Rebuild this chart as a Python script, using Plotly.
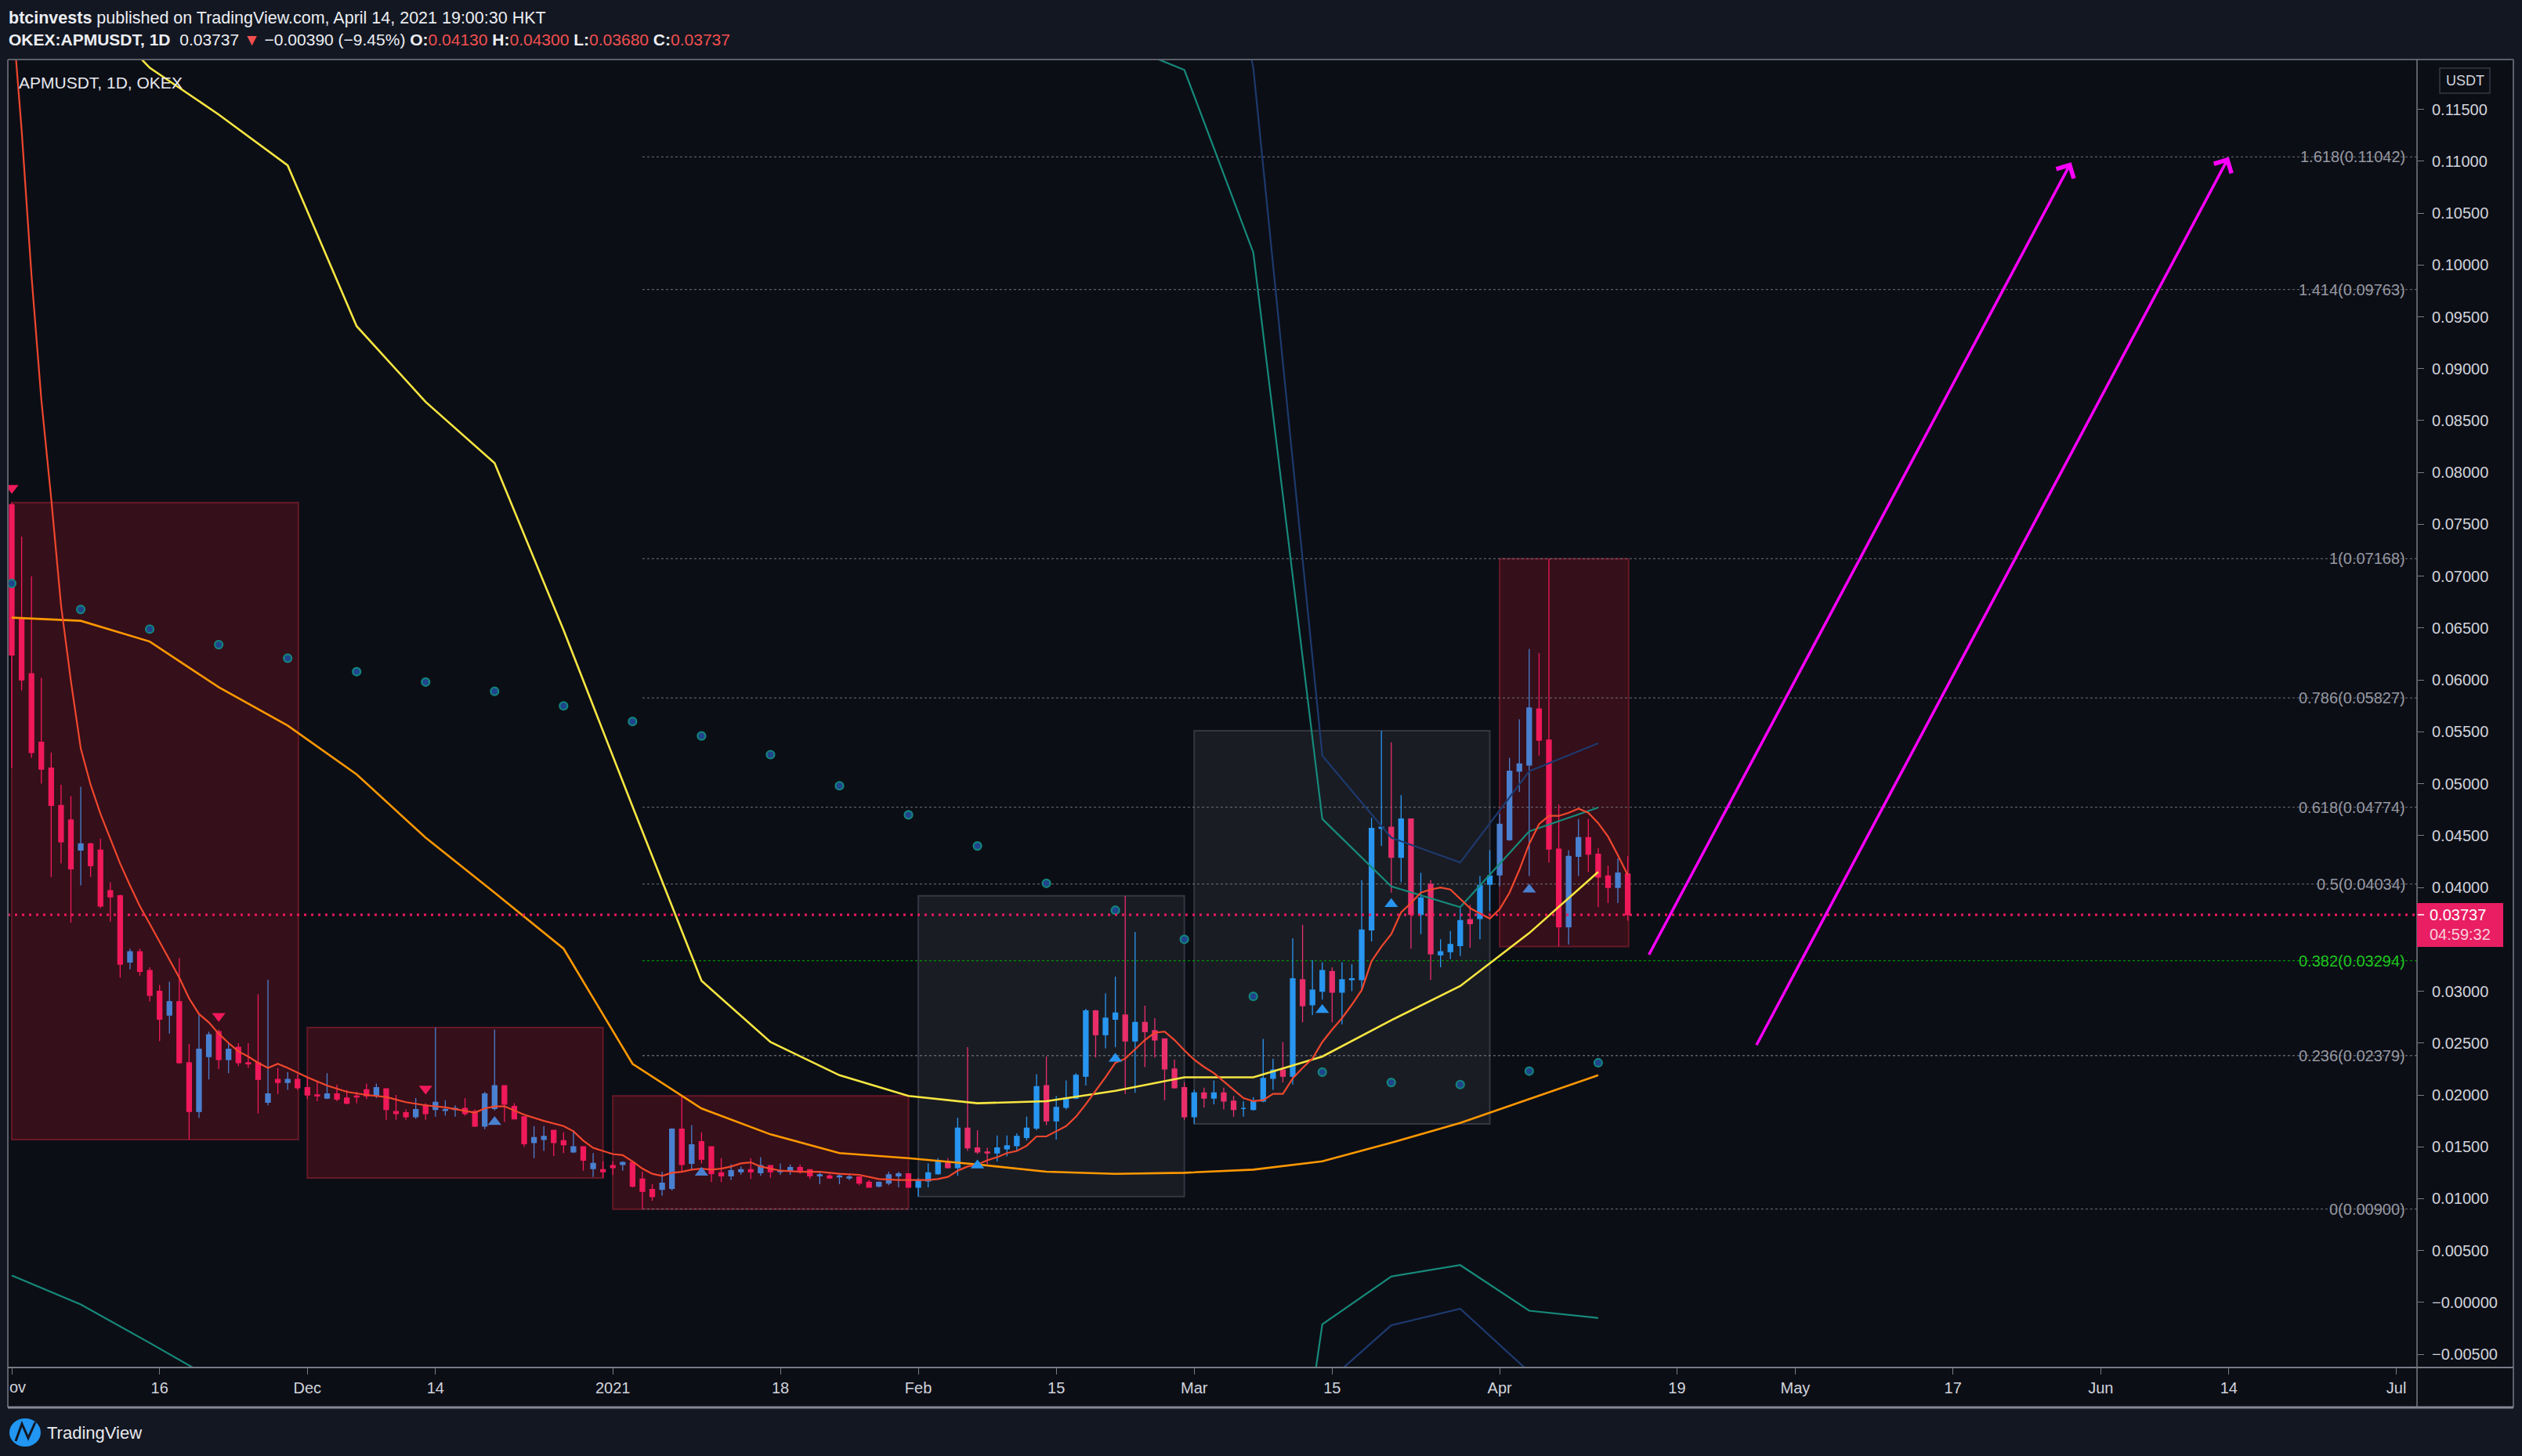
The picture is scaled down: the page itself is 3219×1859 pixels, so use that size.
import plotly.graph_objects as go
import pandas as pd

W, H = 3219, 1859

# ---------------- data ----------------
dates = pd.date_range('2020-11-01', periods=165, freq='D')

open_ = [0.0769, 0.0660, 0.0606, 0.0540, 0.0515, 0.0479, 0.0465, 0.0436, 0.0442, 0.0436,
         0.0397, 0.0392, 0.0328, 0.0338, 0.0320, 0.0300, 0.0277, 0.0290, 0.0231, 0.0184,
         0.0237, 0.0261, 0.0234, 0.0246, 0.0231, 0.0231, 0.0193, 0.0215, 0.0212, 0.0215,
         0.0207, 0.0200, 0.0197, 0.0201, 0.0197, 0.0199, 0.0205, 0.0199, 0.0206, 0.0184,
         0.0183, 0.0179, 0.0190, 0.0186, 0.0185, 0.0186, 0.0187, 0.0184, 0.0170, 0.0187,
         0.0209, 0.0189, 0.0179, 0.0154, 0.0157, 0.0166, 0.0156, 0.0145, 0.0150, 0.0129,
         0.0128, 0.0132, 0.0133, 0.0135, 0.0119, 0.0109, 0.0109, 0.0110, 0.0167, 0.0134,
         0.0155, 0.0150, 0.0125, 0.0122, 0.0126, 0.0128, 0.0125, 0.0132, 0.0126, 0.0127,
         0.0130, 0.0128, 0.0122, 0.0122, 0.0121, 0.0120, 0.0121, 0.0116, 0.0112, 0.0115,
         0.0122, 0.0124, 0.0111, 0.0117, 0.0124, 0.0136, 0.0130, 0.0168, 0.0149, 0.0145,
         0.0144, 0.0148, 0.0151, 0.0159, 0.0168, 0.0209, 0.0175, 0.0188, 0.0197, 0.0218,
         0.0281, 0.0258, 0.0273, 0.0277, 0.0252, 0.0270, 0.0262, 0.0254, 0.0225, 0.0207,
         0.0179, 0.0202, 0.0197, 0.0202, 0.0194, 0.0187, 0.0186, 0.0194, 0.0216, 0.0224,
         0.0218, 0.0311, 0.0287, 0.0300, 0.0319, 0.0299, 0.0311, 0.0311, 0.0359, 0.0457,
         0.0458, 0.0429, 0.0466, 0.0374, 0.0403, 0.0335, 0.0338, 0.0344, 0.0369, 0.0370,
         0.0403, 0.0412, 0.0446, 0.0512, 0.0518, 0.0572, 0.0542, 0.0437, 0.0362, 0.0430,
         0.0448, 0.0432, 0.0411, 0.0400, 0.0413]

high = [0.0771, 0.0738, 0.0700, 0.0602, 0.0530, 0.0499, 0.0488, 0.0497, 0.0443, 0.0447,
        0.0405, 0.0393, 0.0341, 0.0341, 0.0323, 0.0306, 0.0309, 0.0332, 0.0249, 0.0277,
        0.0261, 0.0263, 0.0250, 0.0250, 0.0250, 0.0297, 0.0311, 0.0226, 0.0222, 0.0220,
        0.0218, 0.0213, 0.0221, 0.0210, 0.0205, 0.0203, 0.0211, 0.0211, 0.0206, 0.0200,
        0.0186, 0.0197, 0.0192, 0.0265, 0.0195, 0.0190, 0.0197, 0.0186, 0.0203, 0.0263,
        0.0209, 0.0192, 0.0179, 0.0170, 0.0170, 0.0166, 0.0164, 0.0166, 0.0150, 0.0144,
        0.0136, 0.0136, 0.0136, 0.0136, 0.0126, 0.0114, 0.0126, 0.0168, 0.0199, 0.0171,
        0.0164, 0.0150, 0.0139, 0.0133, 0.0131, 0.0139, 0.0140, 0.0132, 0.0134, 0.0133,
        0.0133, 0.0128, 0.0126, 0.0124, 0.0124, 0.0124, 0.0121, 0.0118, 0.0116, 0.0126,
        0.0126, 0.0124, 0.0120, 0.0134, 0.0139, 0.0139, 0.0178, 0.0246, 0.0166, 0.0149,
        0.0161, 0.0161, 0.0163, 0.0179, 0.0220, 0.0237, 0.0199, 0.0214, 0.0221, 0.0283,
        0.0282, 0.0298, 0.0314, 0.0392, 0.0357, 0.0286, 0.0274, 0.0254, 0.0234, 0.0212,
        0.0205, 0.0207, 0.0214, 0.0207, 0.0199, 0.0194, 0.0198, 0.0254, 0.0235, 0.0251,
        0.0351, 0.0364, 0.0330, 0.0328, 0.0323, 0.0328, 0.0326, 0.0407, 0.0467, 0.0551,
        0.0540, 0.0489, 0.0466, 0.0414, 0.0407, 0.0350, 0.0358, 0.0380, 0.0383, 0.0411,
        0.0436, 0.0471, 0.0525, 0.0562, 0.0630, 0.0626, 0.07168, 0.0480, 0.0436, 0.0466,
        0.0466, 0.0438, 0.0421, 0.0428, 0.0430]

low = [0.0515, 0.0590, 0.0525, 0.0500, 0.0410, 0.0423, 0.0366, 0.0402, 0.0410, 0.0380,
       0.0367, 0.0313, 0.0321, 0.0315, 0.0290, 0.0252, 0.0259, 0.0230, 0.0157, 0.0178,
       0.0215, 0.0225, 0.0221, 0.0228, 0.0226, 0.0182, 0.0190, 0.0201, 0.0205, 0.0205,
       0.0196, 0.0194, 0.0196, 0.0194, 0.0191, 0.0192, 0.0196, 0.0197, 0.0176, 0.0176,
       0.0176, 0.0177, 0.0176, 0.0179, 0.0180, 0.0179, 0.0180, 0.0169, 0.0167, 0.0185,
       0.0174, 0.0177, 0.0150, 0.0139, 0.0146, 0.0141, 0.0144, 0.0144, 0.0127, 0.0121,
       0.0120, 0.0123, 0.0127, 0.0111, 0.0090, 0.0098, 0.0103, 0.0108, 0.0126, 0.0128,
       0.0134, 0.0116, 0.0116, 0.0118, 0.0123, 0.0119, 0.0122, 0.0120, 0.0123, 0.0123,
       0.0124, 0.0119, 0.0114, 0.0119, 0.0114, 0.0118, 0.0113, 0.0111, 0.0111, 0.0113,
       0.0111, 0.0111, 0.0102, 0.0111, 0.0123, 0.0129, 0.0122, 0.0146, 0.0143, 0.0133,
       0.0136, 0.0141, 0.0146, 0.0156, 0.0166, 0.0171, 0.0157, 0.0186, 0.0196, 0.0209,
       0.0236, 0.0245, 0.0246, 0.0201, 0.0202, 0.0227, 0.0236, 0.0195, 0.0206, 0.0176,
       0.0172, 0.0188, 0.0191, 0.0186, 0.0179, 0.0179, 0.0185, 0.0193, 0.0205, 0.0212,
       0.0210, 0.0270, 0.0277, 0.0292, 0.0270, 0.0268, 0.0300, 0.0301, 0.0348, 0.0440,
       0.0395, 0.0405, 0.0341, 0.0355, 0.0311, 0.0323, 0.0331, 0.0334, 0.0342, 0.0350,
       0.0377, 0.0401, 0.0445, 0.0492, 0.0411, 0.0527, 0.0424, 0.0343, 0.0345, 0.0411,
       0.0415, 0.0381, 0.0385, 0.0385, 0.0368]

close = [0.0624, 0.0600, 0.0530, 0.0514, 0.0479, 0.0444, 0.0418, 0.0442, 0.0421, 0.0382,
         0.0391, 0.0326, 0.0338, 0.0319, 0.0296, 0.0273, 0.0290, 0.0231, 0.0184, 0.0244,
         0.0258, 0.0234, 0.0244, 0.0231, 0.0230, 0.0215, 0.0201, 0.0212, 0.0215, 0.0207,
         0.0200, 0.0199, 0.0201, 0.0196, 0.0192, 0.0198, 0.0199, 0.0207, 0.0186, 0.0182,
         0.0179, 0.0186, 0.0182, 0.0193, 0.0186, 0.0187, 0.0182, 0.0170, 0.0201, 0.0209,
         0.0191, 0.0177, 0.0153, 0.0159, 0.0160, 0.0154, 0.0152, 0.0150, 0.0137, 0.0134,
         0.0126, 0.0130, 0.0135, 0.0112, 0.0107, 0.0102, 0.0115, 0.0167, 0.0133, 0.0152,
         0.0138, 0.0124, 0.0122, 0.0127, 0.0128, 0.0126, 0.0132, 0.0126, 0.0127, 0.0130,
         0.0127, 0.0122, 0.0123, 0.0120, 0.0122, 0.0121, 0.0115, 0.0111, 0.0116, 0.0123,
         0.0124, 0.0111, 0.0117, 0.0125, 0.0136, 0.0130, 0.0168, 0.0149, 0.0145, 0.0144,
         0.0149, 0.0151, 0.0160, 0.0168, 0.0208, 0.0175, 0.0188, 0.0197, 0.0219, 0.0281,
         0.0258, 0.0274, 0.0279, 0.0252, 0.0270, 0.0261, 0.0253, 0.0225, 0.0207, 0.0179,
         0.0202, 0.0197, 0.0202, 0.0194, 0.0186, 0.0187, 0.0194, 0.0216, 0.0224, 0.0218,
         0.0312, 0.0286, 0.0301, 0.0320, 0.0299, 0.0311, 0.0312, 0.0359, 0.0457, 0.0458,
         0.0429, 0.0466, 0.0374, 0.0390, 0.0336, 0.0338, 0.0345, 0.0368, 0.0365, 0.0402,
         0.0411, 0.0461, 0.0512, 0.0519, 0.0573, 0.0542, 0.0437, 0.0362, 0.0430, 0.0448,
         0.0432, 0.0410, 0.0400, 0.0414, 0.03737]

# fast moving average (red-orange), sampled at day offsets from Nov 1
ma_days = [0, 1, 2, 3, 4, 5, 6, 7, 8, 9,
           10, 11, 12, 13, 14, 15, 16, 17, 18, 19,
           20, 21, 22, 23, 24, 25, 26, 27, 28, 30,
           32, 34, 36, 38, 40, 42, 44, 46, 47, 48,
           49, 50, 51, 52, 54, 56, 57, 58, 59, 60,
           61, 62, 63, 64, 65, 66, 67, 68, 69, 70,
           71, 72, 73, 74, 75, 76, 77, 78, 80, 82,
           84, 86, 88, 90, 92, 93, 94, 95, 96, 97,
           98, 99, 100, 101, 102, 103, 104, 105, 106, 107,
           108, 109, 110, 111, 112, 113, 114, 115, 116, 117,
           118, 119, 120, 121, 122, 123, 124, 125, 126, 127,
           128, 129, 130, 131, 132, 133, 134, 135, 136, 137,
           138, 139, 140, 141, 142, 143, 144, 145, 146, 147,
           148, 149, 150, 151, 152, 153, 154, 155, 156, 157,
           158, 159, 160, 161, 162, 163, 164]
ma_vals = [0.1250, 0.1130, 0.0990, 0.0870, 0.0775, 0.0672, 0.0599, 0.0534, 0.0499, 0.0471,
           0.0447, 0.0423, 0.0402, 0.0382, 0.0365, 0.0348, 0.0330, 0.0313, 0.0293, 0.0278,
           0.0270, 0.0259, 0.0250, 0.0242, 0.0237, 0.0231, 0.0226, 0.0230, 0.0226, 0.0217,
           0.0209, 0.0203, 0.0200, 0.0198, 0.0193, 0.0190, 0.0188, 0.0185, 0.0183, 0.0187,
           0.0189, 0.0189, 0.0185, 0.0181, 0.0175, 0.0170, 0.0165, 0.0156, 0.0149, 0.0146,
           0.0143, 0.0142, 0.0136, 0.0129, 0.0124, 0.0122, 0.0125, 0.0126, 0.0128, 0.0129,
           0.0128, 0.0129, 0.0131, 0.0134, 0.0135, 0.0131, 0.0129, 0.0127, 0.0126, 0.0126,
           0.0124, 0.0123, 0.0119, 0.0118, 0.0118, 0.0118, 0.0119, 0.0121, 0.0127, 0.0131,
           0.0133, 0.0137, 0.0140, 0.0144, 0.0146, 0.0151, 0.0160, 0.0160, 0.0165, 0.0170,
           0.0179, 0.0191, 0.0204, 0.0217, 0.0231, 0.0235, 0.0244, 0.0253, 0.0260, 0.0261,
           0.0253, 0.0243, 0.0234, 0.0227, 0.0221, 0.0213, 0.0205, 0.0197, 0.0194, 0.0195,
           0.0201, 0.0201, 0.0216, 0.0226, 0.0235, 0.0251, 0.0263, 0.0274, 0.0287, 0.0301,
           0.0329, 0.0343, 0.0355, 0.0376, 0.0385, 0.0395, 0.0398, 0.0400, 0.0398, 0.0389,
           0.0380, 0.0375, 0.0370, 0.0379, 0.0395, 0.0417, 0.0442, 0.0461, 0.0469, 0.0469,
           0.0472, 0.0476, 0.0472, 0.0462, 0.0449, 0.0431, 0.0412]

# weekly indicator lines (values on Sundays, Nov 1 .. Apr 11)
week_dates = pd.date_range('2020-11-01', '2021-04-11', freq='7D')
dots_vals = [0.0693, 0.0668, 0.0649, 0.0634, 0.0621, 0.0608, 0.0598, 0.0589, 0.0575, 0.0560,
             0.0546, 0.0528, 0.0498, 0.0470, 0.0440, 0.0404, 0.0378, 0.0350, 0.0295, 0.0222,
             0.0212, 0.0210, 0.0223, 0.0231]
orange_vals = [0.0660, 0.0657, 0.0637, 0.0593, 0.0556, 0.0509, 0.0448, 0.0395, 0.0341, 0.0230,
               0.0187, 0.0162, 0.0144, 0.0139, 0.0133, 0.0126, 0.0124, 0.0125, 0.0128, 0.0136,
               0.0154, 0.0173, 0.0196, 0.0219]
yellow_vals = [0.1260, 0.1190, 0.1145, 0.1096, 0.0941, 0.0868, 0.0809, 0.0648, 0.0478,
               0.0310, 0.0251, 0.0219, 0.0199, 0.0192, 0.0194, 0.0204, 0.0217, 0.0217, 0.0237,
               0.0272, 0.0305, 0.0356, 0.0415]               # Nov 8 .. Apr 11
teal_upper_vals = [0.1215, 0.1188, 0.1012, 0.0466, 0.0401, 0.0381, 0.0454, 0.0477]   # Feb 21 .. Apr 11
teal_lower_a_vals = [0.0026, -0.0002, -0.0039, -0.0077]                             # Nov 1 .. Nov 22
teal_lower_b_vals = [-0.0480, -0.0021, 0.0025, 0.0036, -0.0008, -0.0015]             # Mar 7 .. Apr 11
navy_upper_vals = [0.1500, 0.1190, 0.0527, 0.0448, 0.0424, 0.0512, 0.0539]           # Feb 28 .. Apr 11
navy_lower_vals = [-0.0081, -0.0022, -0.0006, -0.0067, -0.0075]                      # Mar 14 .. Apr 11

# signal triangles
down_dates = ['2020-11-01', '2020-11-22', '2020-12-13']
down_vals = [0.0785, 0.0276, 0.0206]
up_dates = ['2020-12-20', '2021-01-10', '2021-02-07', '2021-02-21', '2021-03-14', '2021-03-21', '2021-04-04']
up_vals = [0.0174, 0.0125, 0.0132, 0.0235, 0.0282, 0.0384, 0.0398]

# Fibonacci levels (anchored on Jan 4 low and Apr 6 high)
fib_low, fib_high = 0.00900, 0.07168
fib_ratios = [0, 0.236, 0.382, 0.5, 0.618, 0.786, 1, 1.414, 1.618]
fib_names = ['0', '0.236', '0.382', '0.5', '0.618', '0.786', '1', '1.414', '1.618']

# shaded ranges (monthly boxes)
box_starts = ['2020-11-01', '2020-12-01', '2021-01-01', '2021-02-01', '2021-03-01', '2021-04-01']
box_ends = ['2020-11-30 02:00', '2020-12-31', '2021-01-31', '2021-02-28', '2021-03-31', '2021-04-14 02:00']
box_kinds = ['red', 'red', 'red', 'grey', 'grey', 'red']

# projection arrows (tail -> tip)
arrow_tail_dates = ['2021-04-16 02:00', '2021-04-27']
arrow_tail_vals = [0.0334, 0.0247]
arrow_tip_dates = ['2021-05-29', '2021-06-14']
arrow_tip_vals = [0.1099, 0.1104]

last_price = 0.03737

price_ticks = [0.115, 0.110, 0.105, 0.100, 0.095, 0.090, 0.085, 0.080, 0.075, 0.070, 0.065, 0.060,
               0.055, 0.050, 0.045, 0.040, 0.030, 0.025, 0.020, 0.015, 0.010, 0.005, 0.0, -0.005]
price_tick_labels = ['0.11500', '0.11000', '0.10500', '0.10000', '0.09500', '0.09000', '0.08500',
                     '0.08000', '0.07500', '0.07000', '0.06500', '0.06000', '0.05500', '0.05000',
                     '0.04500', '0.04000', '0.03000', '0.02500', '0.02000', '0.01500', '0.01000',
                     '0.00500', '\u22120.00000', '\u22120.00500']
time_ticks = ['2020-11-01', '2020-11-16', '2020-12-01', '2020-12-14', '2021-01-01', '2021-01-18',
              '2021-02-01', '2021-02-15', '2021-03-01', '2021-03-15', '2021-04-01', '2021-04-19',
              '2021-05-01', '2021-05-17', '2021-06-01', '2021-06-14', '2021-07-01']
time_tick_labels = ['', '16', 'Dec', '14', '2021', '18', 'Feb', '15', 'Mar', '15', 'Apr', '19',
                    'May', '17', 'Jun', '14', 'Jul']
first_tick_visible_text = 'ov'     # "Nov" label clipped by the chart frame at the left edge

# ---------------- styling ----------------
BG = '#0c0e16'
PAPER = '#131722'
TXT = '#d1d4dc'
FONT = 'Liberation Sans, Arial, sans-serif'

fig = go.Figure()

def pick(seq, idx):
    return [seq[i] for i in idx]

n = len(dates)
grey_idx = [i for i in range(n) if pd.Timestamp('2021-02-01') <= dates[i] <= pd.Timestamp('2021-03-31')]
red_idx = [i for i in range(n) if i not in grey_idx]

for idx, up_c, dn_c in [(red_idx, '#4a80d0', '#f0195a'), (grey_idx, '#2896f0', '#e92e6a')]:
    fig.add_trace(go.Candlestick(
        x=pick(list(dates), idx), open=pick(open_, idx), high=pick(high, idx),
        low=pick(low, idx), close=pick(close, idx),
        increasing=dict(line=dict(color=up_c, width=1.3), fillcolor=up_c),
        decreasing=dict(line=dict(color=dn_c, width=1.3), fillcolor=dn_c),
        whiskerwidth=0, hoverinfo='skip', showlegend=False))

def line_trace(xs, ys, color, width):
    fig.add_trace(go.Scatter(x=list(xs), y=ys, mode='lines', line=dict(color=color, width=width),
                             hoverinfo='skip', showlegend=False, cliponaxis=True))

line_trace(week_dates, orange_vals, '#ff9800', 2.6)
line_trace(week_dates[1:], yellow_vals, '#f7e641', 2.6)
line_trace(week_dates[16:], teal_upper_vals, '#168a7a', 2.2)
line_trace(week_dates[0:4], teal_lower_a_vals, '#168a7a', 2.2)
line_trace(week_dates[18:], teal_lower_b_vals, '#168a7a', 2.2)
line_trace(week_dates[17:], navy_upper_vals, '#1d3a6e', 2.2)
line_trace(week_dates[19:], navy_lower_vals, '#1d3a6e', 2.2)

ma_dates = [dates[0] + pd.Timedelta(days=d) for d in ma_days]
line_trace(ma_dates, ma_vals, '#f0472d', 2.2)

fig.add_trace(go.Scatter(x=list(week_dates), y=dots_vals, mode='markers',
                         marker=dict(symbol='circle', size=10, color='#1f448c',
                                     line=dict(color='#12857c', width=2.2)),
                         hoverinfo='skip', showlegend=False))
fig.add_trace(go.Scatter(x=down_dates, y=down_vals, mode='markers',
                         marker=dict(symbol='triangle-down', size=15, color='#f0195a'),
                         hoverinfo='skip', showlegend=False))
up_colors = ['#4a80d0', '#4a80d0', '#2896f0', '#2896f0', '#2896f0', '#2896f0', '#4a80d0']
fig.add_trace(go.Scatter(x=up_dates, y=up_vals, mode='markers',
                         marker=dict(symbol='triangle-up', size=15, color=up_colors),
                         hoverinfo='skip', showlegend=False))

# ---------------- geometry helpers ----------------
PL, PR, PT, PB = 10, 3085, 76, 1746      # plot area in pixels
def px(xp):
    return (xp - PL) / (PR - PL)
def py(yp):
    return (PB - yp) / (PB - PT)

Y0, Y1 = -0.00627, 0.1198
pix_per_unit = (PB - PT) / (Y1 - Y0)

shapes = []
shapes.append(dict(type='rect', xref='paper', yref='paper', x0=px(10), x1=px(3208), y0=py(1797), y1=py(76),
                   fillcolor=BG, line=dict(width=0), layer='below'))

for s, e, k in zip(box_starts, box_ends, box_kinds):
    ids = [i for i in range(n) if pd.Timestamp(s) <= dates[i] <= pd.Timestamp(e)]
    top = max(high[i] for i in ids)
    bot = min(low[i] for i in ids)
    if k == 'red':
        fc, lc = 'rgba(150,20,35,0.30)', 'rgba(110,25,40,0.9)'
    else:
        fc, lc = 'rgba(120,123,134,0.13)', 'rgba(60,63,74,0.8)'
    shapes.append(dict(type='rect', xref='x', yref='y', x0=s, x1=e, y0=bot, y1=top,
                       fillcolor=fc, line=dict(color=lc, width=2), layer='below'))

annotations = []
for r, name in zip(fib_ratios, fib_names):
    p = fib_low + r * (fib_high - fib_low)
    green = (name == '0.382')
    lc = 'rgba(0,160,0,0.9)' if green else 'rgba(120,123,134,0.75)'
    shapes.append(dict(type='line', xref='x', yref='y', x0='2021-01-04', x1='2021-07-20', y0=p, y1=p,
                       line=dict(color=lc, width=1.3, dash='dot'), layer='below'))
    annotations.append(dict(xref='paper', yref='y', x=px(3072), y=p, xanchor='right', yanchor='middle',
                            text=f'{name}({p:.5f})', showarrow=False,
                            font=dict(size=20, color='#1fc41f' if green else '#9598a1', family=FONT)))

shapes.append(dict(type='line', xref='paper', yref='y', x0=0, x1=1, y0=last_price, y1=last_price,
                   line=dict(color='#f0195a', width=3, dash='3px,6px'), layer='above'))

frame_c = '#5d606b'
shapes += [
    dict(type='line', xref='paper', yref='paper', x0=px(10), x1=px(3208), y0=py(76), y1=py(76), line=dict(color=frame_c, width=2)),
    dict(type='line', xref='paper', yref='paper', x0=px(10), x1=px(10), y0=py(76), y1=py(1797), line=dict(color=frame_c, width=2)),
    dict(type='line', xref='paper', yref='paper', x0=px(3208), x1=px(3208), y0=py(76), y1=py(1797), line=dict(color=frame_c, width=2)),
    dict(type='line', xref='paper', yref='paper', x0=px(10), x1=px(3208), y0=py(1797), y1=py(1797), line=dict(color='#868993', width=3)),
    dict(type='line', xref='paper', yref='paper', x0=px(10), x1=px(3208), y0=py(1746), y1=py(1746), line=dict(color='#787b86', width=2)),
    dict(type='line', xref='paper', yref='paper', x0=px(3085), x1=px(3085), y0=py(76), y1=py(1797), line=dict(color='#787b86', width=1.5)),
]

shapes.append(dict(type='rect', xref='paper', yref='y', x0=px(3085), x1=px(3195),
                   y0=last_price - 41 / pix_per_unit, y1=last_price + 15 / pix_per_unit,
                   fillcolor='#e91e63', line=dict(width=0), layer='above'))
shapes.append(dict(type='line', xref='paper', yref='y', x0=px(3086), x1=px(3094), y0=last_price, y1=last_price,
                   line=dict(color='white', width=1.5), layer='above'))
annotations.append(dict(xref='paper', yref='y', x=px(3099), y=last_price, xanchor='left', yanchor='middle',
                        text=f'{last_price:.5f}', showarrow=False, font=dict(size=20, color='white', family=FONT)))
annotations.append(dict(xref='paper', yref='y', x=px(3099), y=last_price - 25 / pix_per_unit, xanchor='left',
                        yanchor='middle', text='04:59:32', showarrow=False,
                        font=dict(size=20, color='#f8d0dc', family=FONT)))

shapes.append(dict(type='rect', xref='paper', yref='paper', x0=px(3114), x1=px(3178), y0=py(119), y1=py(87),
                   fillcolor=BG, line=dict(color='#363a45', width=1.5), layer='above'))
annotations.append(dict(xref='paper', yref='paper', x=px(3146), y=py(103), xanchor='center', yanchor='middle',
                        text='USDT', showarrow=False, font=dict(size=18, color=TXT, family=FONT)))

for td, tv, hd, hv in zip(arrow_tail_dates, arrow_tail_vals, arrow_tip_dates, arrow_tip_vals):
    annotations.append(dict(x=hd, y=hv, xref='x', yref='y', ax=td, ay=tv, axref='x', ayref='y',
                            text='', showarrow=True, arrowhead=4, arrowsize=1.4, arrowwidth=3.5,
                            arrowcolor='#ff00ff', standoff=0))

# clipped first time label
annotations.append(dict(xref='paper', yref='paper', x=px(10), y=py(1771), xanchor='left', yanchor='middle',
                        showarrow=False, text=first_tick_visible_text,
                        font=dict(size=20, color=TXT, family=FONT)))

annotations.append(dict(xref='paper', yref='paper', x=px(9), y=py(23), xanchor='left', yanchor='middle',
                        showarrow=False, font=dict(size=21.5, color='#eceef2', family=FONT),
                        text='<b>btcinvests</b> published on TradingView.com, April 14, 2021 19:00:30 HKT'))
red = '#f0504f'
annotations.append(dict(xref='paper', yref='paper', x=px(9), y=py(50), xanchor='left', yanchor='middle',
                        showarrow=False, font=dict(size=21, color='#eceef2', family=FONT),
                        text=(f'<b>OKEX:APMUSDT, 1D</b>  0.03737 <span style="color:{red}">\u25bc</span> '
                              f'\u22120.00390 (\u22129.45%) '
                              f'<b>O:</b><span style="color:{red}">0.04130</span> '
                              f'<b>H:</b><span style="color:{red}">0.04300</span> '
                              f'<b>L:</b><span style="color:{red}">0.03680</span> '
                              f'<b>C:</b><span style="color:{red}">0.03737</span>')))
annotations.append(dict(xref='paper', yref='paper', x=px(22), y=py(105), xanchor='left', yanchor='middle',
                        showarrow=False, text='APMUSDT, 1D, OKEX',
                        font=dict(size=21, color='#e6e8ee', family=FONT)))

shapes.append(dict(type='circle', xref='paper', yref='paper', x0=px(12), x1=px(52), y0=py(1847), y1=py(1811),
                   fillcolor='#2196f3', line=dict(width=0), layer='above'))
shapes.append(dict(type='path', xref='paper', yref='paper',
                   path=f'M {px(20)},{py(1840)} L {px(28)},{py(1818)} L {px(36)},{py(1836)} L {px(45)},{py(1816)}',
                   line=dict(color='#131722', width=3), layer='above'))
annotations.append(dict(xref='paper', yref='paper', x=px(58), y=py(1829), xanchor='left', yanchor='middle',
                        showarrow=False, text='TradingView', font=dict(size=22, color='#e8e9ed', family=FONT)))

fig.update_layout(
    width=W, height=H,
    margin=dict(l=PL, r=W - PR, t=PT, b=H - PB, autoexpand=False),
    paper_bgcolor=PAPER, plot_bgcolor=BG,
    font=dict(family=FONT, size=20, color=TXT),
    showlegend=False, hovermode=False, boxgap=0.32,
    shapes=shapes, annotations=annotations,
    xaxis=dict(type='date', range=['2020-10-31 14:24', '2021-07-03 02:24'],
               rangeslider=dict(visible=False), showgrid=False, zeroline=False, showline=False,
               ticks='outside', ticklen=8, tickcolor='#787b86', tickwidth=1,
               tickvals=time_ticks, ticktext=time_tick_labels,
               tickfont=dict(size=20, color=TXT, family=FONT), ticklabelstandoff=0),
    yaxis=dict(side='right', range=[Y0, Y1], showgrid=False, zeroline=False, showline=False,
               ticks='outside', ticklen=8, tickcolor='#787b86', tickwidth=1,
               tickvals=price_ticks, ticktext=price_tick_labels,
               tickfont=dict(size=20, color=TXT, family=FONT), ticklabelstandoff=6),
)

fig.write_html('out.html', config={'displayModeBar': False},
               post_script="document.body.style.margin='0';document.body.style.background='#131722';"
                           "document.body.style.overflow='hidden';")
